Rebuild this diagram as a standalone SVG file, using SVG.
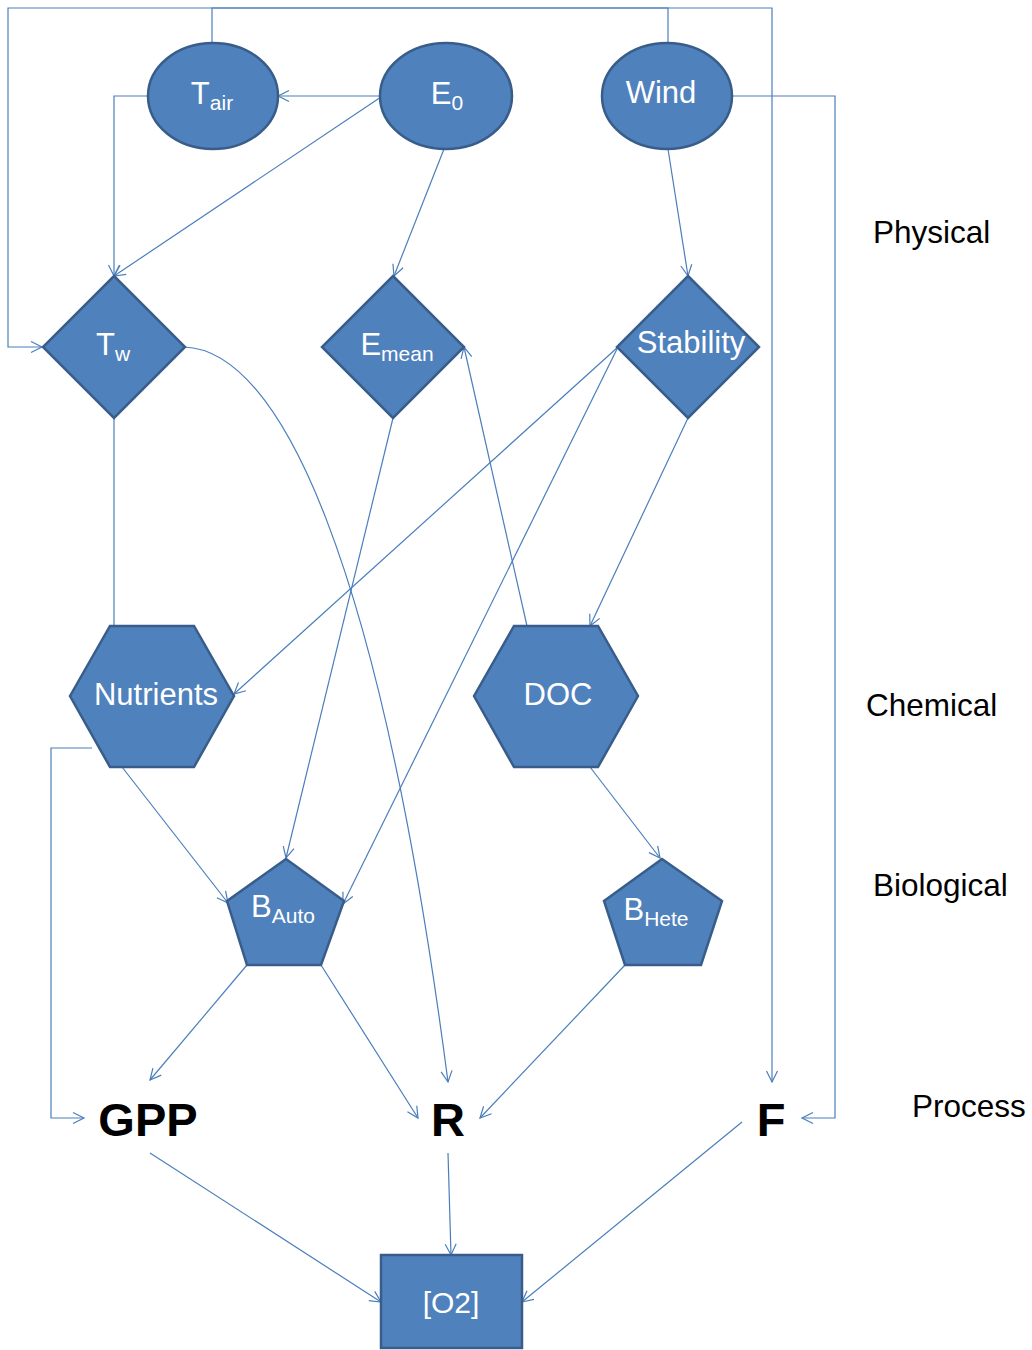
<svg xmlns="http://www.w3.org/2000/svg" width="1032" height="1350" viewBox="0 0 1032 1350">
<style>
.node{fill:#4F81BD;stroke:#385D8A;stroke-width:2.5}
.lbl{font-family:"Liberation Sans",Arial,sans-serif;fill:#fff;font-size:31px;text-anchor:middle}
.sub{font-size:21px}
.proc{font-family:"Liberation Sans",Arial,sans-serif;fill:#000;font-size:47px;font-weight:bold;text-anchor:middle}
.side{font-family:"Liberation Sans",Arial,sans-serif;fill:#000;font-size:31.5px}
.c{fill:none;stroke:#4A7EBB;stroke-width:1.2}
.a{marker-end:url(#arr)}
</style>
<defs>
<marker id="arr" viewBox="-13 -8 15 16" refX="0" refY="0" markerWidth="15" markerHeight="16" orient="auto" markerUnits="userSpaceOnUse">
<path d="M-11,-5.5 L0,0 L-11,5.5" fill="none" stroke="#4A7EBB" stroke-width="1.2"/>
</marker>
</defs>
<rect width="1032" height="1350" fill="#fff"/>
<g id="connectors">
<path class="c a" d="M212,43 V8 H772 V1082"/>
<path class="c a" d="M668,43 V8 H8 V347 H42"/>
<path class="c a" d="M148,96 H114 V276"/>
<path class="c a" d="M380,96 H278"/>
<path class="c a" d="M381,97 L114,276"/>
<path class="c a" d="M444,149 L394,276"/>
<path class="c a" d="M668,149 L688,276"/>
<path class="c a" d="M732,96 H835 V1118 H802"/>
<path class="c a" d="M184,347 C280,350 380,560 448,1082"/>
<path class="c" d="M114,418 V626"/>
<path class="c a" d="M393,418 L286,858"/>
<path class="c a" d="M527,626 L464,347"/>
<path class="c a" d="M618,347 L234,694"/>
<path class="c a" d="M618,347 L343,904"/>
<path class="c a" d="M688,418 L590,626"/>
<path class="c a" d="M92,748 H51 V1118 H84"/>
<path class="c a" d="M122,767 L228,903"/>
<path class="c a" d="M590,767 L660,858"/>
<path class="c a" d="M247,965 L150,1080"/>
<path class="c a" d="M321,965 L418,1118"/>
<path class="c a" d="M625,965 L480,1118"/>
<path class="c a" d="M150,1153 L381,1302"/>
<path class="c a" d="M448,1153 L451,1255"/>
<path class="c a" d="M742,1122 L522,1302"/>
</g>
<g id="Tair"><ellipse class="node" cx="213" cy="96" rx="65" ry="53"/><text class="lbl" x="212" y="104">T<tspan class="sub" dy="6">air</tspan></text></g>
<g id="E0"><ellipse class="node" cx="446" cy="96" rx="66" ry="53"/><text class="lbl" x="447" y="104">E<tspan class="sub" dy="6">0</tspan></text></g>
<g id="Wind"><ellipse class="node" cx="667" cy="96" rx="65" ry="53"/><text class="lbl" x="661" y="103">Wind</text></g>
<g id="Tw"><polygon class="node" points="114,276 185,347 114,418 43,347"/><text class="lbl" x="113" y="355">T<tspan class="sub" dy="6">w</tspan></text></g>
<g id="Emean"><polygon class="node" points="393,276 464,347 393,418 322,347"/><text class="lbl" x="397" y="355">E<tspan class="sub" dy="6">mean</tspan></text></g>
<g id="Stability"><polygon class="node" points="688,276 759,347 688,418 617,347"/><text class="lbl" x="691" y="353">Stability</text></g>
<g id="Nutrients"><polygon class="node" points="70,696 110,626 194,626 234,696 194,767 110,767"/><text class="lbl" x="156" y="705">Nutrients</text></g>
<g id="DOC"><polygon class="node" points="474,696 514,626 598,626 638,696 598,767 514,767"/><text class="lbl" x="558" y="705">DOC</text></g>
<g id="BAuto"><polygon class="node" points="286,859 344,901 321,965 247,965 227,901"/><text class="lbl" x="283" y="917">B<tspan class="sub" dy="6">Auto</tspan></text></g>
<g id="BHete"><polygon class="node" points="662,859 722,901 701,965 625,965 604,901"/><text class="lbl" x="656" y="920">B<tspan class="sub" dy="6">Hete</tspan></text></g>
<g id="GPP"><text class="proc" x="148" y="1136">GPP</text></g>
<g id="R"><text class="proc" x="448" y="1136">R</text></g>
<g id="F"><text class="proc" x="771" y="1136">F</text></g>
<g id="O2"><rect class="node" x="381" y="1255" width="141" height="93"/><text class="lbl" x="451" y="1313" style="font-size:30px">[O2]</text></g>
<g id="labels">
<text class="side" x="873" y="243">Physical</text>
<text class="side" x="866" y="716">Chemical</text>
<text class="side" x="873" y="896">Biological</text>
<text class="side" x="912" y="1117">Process</text>
</g>
</svg>
